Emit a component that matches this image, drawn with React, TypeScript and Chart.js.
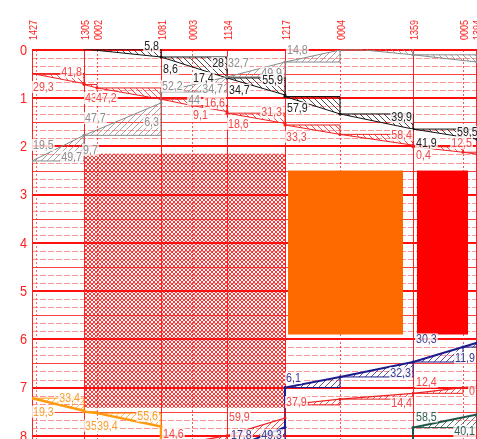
import React, { useEffect, useRef } from 'react';
import { Chart, registerables } from 'chart.js';

Chart.register(...registerables);

// ---------- data ----------
const stationNames = ['1427', '1305', '0002', '1081', '0003', '1134', '1217', '0004', '1359', '0005', '1394'];
const stationKm = [0, 52, 65, 129, 160, 195, 253, 308, 381, 431, 444];
const stationIsMain = [true, true, false, true, false, true, true, false, true, false, true];
const hourTicks = [0, 1, 2, 3, 4, 5, 6, 7, 8];
const minorPerHour = 6;

// [km, hour]
const grayTopTrain: [number, number][] = [[308, -0.05], [381, 0.1], [445, 0.25]];
const blackTrain: [number, number][] = [[52, -0.02], [129, 0.145], [195, 0.58], [253, 0.932], [253, 0.965], [308, 1.326], [381, 1.64], [445, 1.85]];
const grayTrain: [number, number][] = [[0, 2.301], [52, 1.77], [129, 1.098], [129, 0.87], [195, 0.56], [253, 0.25], [308, 0.0], [330, -0.08]];
const redTrain: [number, number][] = [[0, 0.488], [52, 0.697], [52, 0.717], [65, 0.787], [129, 1.02], [160, 1.152], [195, 1.277], [195, 1.31], [253, 1.522], [253, 1.555], [308, 1.75], [381, 1.973], [381, 2.007], [431, 2.12], [445, 2.16]];
const orangeTrain: [number, number][] = [[0, 7.22], [52, 7.48], [52, 7.5], [65, 7.53], [129, 7.81], [129, 8.6]];
const redLowTrain: [number, number][] = [[129, 8.24], [195, 7.998], [253, 7.632], [253, 7.36], [308, 7.24], [381, 7.12], [431, 7.0], [445, 6.97]];
const blueTrain: [number, number][] = [[195, 8.297], [253, 7.822], [253, 7.0], [308, 6.78], [381, 6.47], [431, 6.16], [445, 6.07]];
const greenTrain: [number, number][] = [[381, 8.6], [381, 7.83], [445, 7.56]];

// [km, hour, text, side]
type Lbl = [number, number, string, 'l' | 'r'];
const blackLabels: Lbl[] = [
  [127, -0.08, '5,8', 'r'], [131, 0.394, '8,6', 'l'], [192, 0.27, '28', 'r'], [161, 0.58, '17,4', 'l'],
  [251, 0.622, '55,9', 'r'], [197, 0.829, '34,7', 'l'], [255, 1.202, '57,9', 'l'], [380, 1.389, '39,9', 'r'],
  [384, 1.927, '41,9', 'l'], [425, 1.7, '59,5', 'l'],
];
const grayLabels: Lbl[] = [
  [255, 0.0, '14,8', 'l'], [196, 0.26, '32,7', 'l'], [250, 0.47, '49,9', 'r'], [130, 0.75, '52,2', 'l'],
  [168, 1.03, '44', 'r'], [191, 0.8, '34,7', 'r'], [53, 1.41, '47,7', 'l'], [127, 1.49, '6,3', 'r'],
  [1, 1.97, '19,5', 'l'], [50, 2.22, '49,7', 'r'], [51, 2.07, '9,7', 'l'],
];
const redLabels: Lbl[] = [
  [50, 0.456, '41,8', 'r'], [1, 0.767, '29,3', 'l'], [53, 0.995, '43,', 'l'], [64, 0.995, '47,2', 'l'],
  [193, 1.1, '16,6', 'r'], [161, 1.34, '9,1', 'l'], [196, 1.53, '18,6', 'l'], [250, 1.29, '31,3', 'r'],
  [254, 1.8, '33,3', 'l'], [380, 1.762, '58,4', 'r'], [384, 2.176, '0,4', 'l'], [440, 1.927, '12,5', 'r'],
];
const orangeLabels: Lbl[] = [
  [48, 7.21, '33,4', 'r'], [1, 7.5, '19,3', 'l'], [53, 7.79, '35,', 'l'], [65, 7.79, '39,4', 'l'], [126, 7.585, '55,6', 'r'],
];
const redLowLabels: Lbl[] = [
  [131, 7.96, '14,6', 'l'], [197, 7.6, '59,9', 'l'], [254, 7.3, '37,9', 'l'], [380, 7.32, '14,4', 'r'],
  [384, 6.88, '12,4', 'l'], [443, 7.07, '0', 'r'],
];
const blueLabels: Lbl[] = [
  [254, 6.8, '6,1', 'l'], [379, 6.7, '32,3', 'r'], [384, 6.0, '30,3', 'l'], [443, 6.38, '11,9', 'r'],
  [199, 7.99, '17,8', 'l'], [250, 7.99, '49,3', 'r'],
];
const greenLabels: Lbl[] = [[384, 7.6, '58,5', 'l'], [443, 7.9, '40,1', 'r']];

// [kmFrom, kmTo, hourFrom, hourTo]
const hatchedBlocks: [number, number, number, number][] = [[52, 253, 2.15, 7.42]];
const orangeBlocks: [number, number, number, number][] = [[256, 371, 2.5, 5.9]];
const redBlocks: [number, number, number, number][] = [[385, 436, 2.5, 5.9]];

// ---------- styles ----------
const FONT = "'Liberation Sans', Arial, sans-serif";
const SQUEEZE = 0.82;
const AXIS_RED = '#ff2020';

const trains = [
  { pts: grayTopTrain, labels: [] as Lbl[], color: '#8a8a8a', text: '#8a8a8a', width: 1, dir: -1 },
  { pts: grayTrain, labels: grayLabels, color: '#8a8a8a', text: '#8e8e8e', width: 1, dir: 1 },
  { pts: blackTrain, labels: blackLabels, color: '#111111', text: '#222222', width: 1, dir: -1 },
  { pts: redTrain, labels: redLabels, color: '#ee2020', text: '#f04848', width: 1, dir: -1 },
  { pts: orangeTrain, labels: orangeLabels, color: '#ff9a10', text: '#f5a030', width: 2.5, dir: 1 },
  { pts: redLowTrain, labels: redLowLabels, color: '#ee2020', text: '#f04848', width: 1.2, dir: 1 },
  { pts: blueTrain, labels: blueLabels, color: '#1c1c8c', text: '#3a3a90', width: 2, dir: 1 },
  { pts: greenTrain, labels: greenLabels, color: '#1f5548', text: '#2e5e52', width: 2, dir: 1 },
];

function makeHatch(ctx: CanvasRenderingContext2D, color: string, dir: number, size: number, cross = false) {
  const c = document.createElement('canvas');
  c.width = size; c.height = size;
  const g = c.getContext('2d')!;
  g.strokeStyle = color; g.lineWidth = 1;
  g.beginPath();
  if (dir > 0 || cross) {
    g.moveTo(0, size); g.lineTo(size, 0);
    g.moveTo(-1, 1); g.lineTo(1, -1);
    g.moveTo(size - 1, size + 1); g.lineTo(size + 1, size - 1);
  }
  if (dir < 0 || cross) {
    g.moveTo(0, 0); g.lineTo(size, size);
    g.moveTo(-1, size - 1); g.lineTo(1, size + 1);
    g.moveTo(size - 1, -1); g.lineTo(size + 1, 1);
  }
  g.stroke();
  return ctx.createPattern(c, 'repeat')!;
}

// draws horizontally condensed text; align: 'l' starts at x, 'r' ends at x, 'c' centred
function narrowText(ctx: CanvasRenderingContext2D, txt: string, x: number, y: number, size: number, align: 'l' | 'r' | 'c') {
  ctx.save();
  ctx.font = `${size}px ${FONT}`;
  ctx.textBaseline = 'middle';
  ctx.textAlign = 'left';
  const w = ctx.measureText(txt).width * SQUEEZE;
  const left = align === 'l' ? x : align === 'r' ? x - w : x - w / 2;
  ctx.translate(left, y);
  ctx.scale(SQUEEZE, 1);
  ctx.fillText(txt, 0, 0);
  ctx.restore();
  return w;
}

const diagramPlugin = {
  id: 'diagram',
  beforeDatasetsDraw(chart: any) {
    const { ctx, chartArea: a, scales } = chart;
    const xs = scales.x, ys = scales.y;
    const X = (v: number) => xs.getPixelForValue(v);
    const Y = (v: number) => ys.getPixelForValue(v);

    // axis texts (outside the plot area)
    ctx.save();
    ctx.fillStyle = AXIS_RED;
    hourTicks.forEach((h) => narrowText(ctx, String(h), a.left - 5, Y(h) + 0.5, 15.5, 'r'));
    stationKm.forEach((k, i) => {
      ctx.save();
      ctx.translate(X(k) + 1.5, a.top - 10);
      ctx.rotate(-Math.PI / 2);
      narrowText(ctx, stationNames[i], 0, 0, 11, 'l');
      ctx.restore();
    });
    ctx.restore();

    ctx.save();
    ctx.beginPath();
    ctx.rect(a.left - 1, a.top - 1, a.right - a.left + 1, a.bottom - a.top + 1);
    ctx.clip();

    // cross-hatched block
    const cross = makeHatch(ctx, '#ff3434', 0, 4, true);
    hatchedBlocks.forEach(([k0, k1, h0, h1]) => {
      ctx.fillStyle = cross;
      ctx.fillRect(X(k0), Y(h0), X(k1) - X(k0), Y(h1) - Y(h0));
    });

    // horizontal grid
    for (let i = Math.ceil(ys.min * minorPerHour); i <= ys.max * minorPerHour; i++) {
      const v = i / minorPerHour;
      const py = Math.round(Y(v));
      ctx.beginPath();
      if (i % minorPerHour === 0) {
        ctx.setLineDash([]); ctx.lineWidth = 2; ctx.strokeStyle = '#ff1010';
        ctx.moveTo(a.left, py); ctx.lineTo(a.right, py);
      } else if (i % (minorPerHour / 2) === 0) {
        ctx.setLineDash([]); ctx.lineWidth = 1; ctx.strokeStyle = 'rgba(255,30,30,0.85)';
        ctx.moveTo(a.left, py + 0.5); ctx.lineTo(a.right, py + 0.5);
      } else {
        ctx.setLineDash([6, 2]); ctx.lineWidth = 1; ctx.strokeStyle = 'rgba(255,60,60,0.55)';
        ctx.moveTo(a.left, py + 0.5); ctx.lineTo(a.right, py + 0.5);
      }
      ctx.stroke();
    }
    // vertical grid
    stationKm.forEach((k, i) => {
      const px = Math.round(X(k)) + 0.5;
      ctx.beginPath();
      ctx.lineWidth = 1;
      if (stationIsMain[i]) { ctx.setLineDash([]); ctx.strokeStyle = '#ff2020'; }
      else { ctx.setLineDash([2, 2]); ctx.strokeStyle = 'rgba(255,40,40,0.8)'; }
      ctx.moveTo(px, a.top); ctx.lineTo(px, a.bottom);
      ctx.stroke();
    });
    ctx.beginPath(); ctx.setLineDash([2, 2]); ctx.strokeStyle = 'rgba(255,40,40,0.7)';
    const p4 = Math.round(X(stationKm[0] + 4)) + 0.5;
    ctx.moveTo(p4, a.top); ctx.lineTo(p4, a.bottom); ctx.stroke();
    ctx.setLineDash([]);

    // solid blocks
    ctx.fillStyle = '#ff6a00';
    orangeBlocks.forEach(([k0, k1, h0, h1]) => ctx.fillRect(X(k0), Y(h0), X(k1) - X(k0), Y(h1) - Y(h0)));
    ctx.fillStyle = '#ff0000';
    redBlocks.forEach(([k0, k1, h0, h1]) => ctx.fillRect(X(k0), Y(h0), X(k1) - X(k0), Y(h1) - Y(h0)));

    // running-time triangles
    trains.forEach((t) => {
      const pat = makeHatch(ctx, t.color, t.dir, 6);
      for (let i = 0; i < t.pts.length - 1; i++) {
        const [k0, h0] = t.pts[i];
        const [k1, h1] = t.pts[i + 1];
        if (k0 === k1) continue;
        ctx.beginPath();
        ctx.moveTo(X(k0), Y(h0)); ctx.lineTo(X(k1), Y(h0)); ctx.lineTo(X(k1), Y(h1)); ctx.closePath();
        ctx.globalAlpha = 0.75;
        ctx.fillStyle = pat; ctx.fill();
        ctx.globalAlpha = 1;
        ctx.beginPath();
        ctx.strokeStyle = t.color; ctx.lineWidth = 1;
        ctx.moveTo(X(k0), Y(h0)); ctx.lineTo(X(k1), Y(h0)); ctx.lineTo(X(k1), Y(h1));
        ctx.stroke();
      }
    });
    ctx.restore();
  },
  afterDatasetsDraw(chart: any) {
    const { ctx, scales } = chart;
    const X = (v: number) => scales.x.getPixelForValue(v);
    const Y = (v: number) => scales.y.getPixelForValue(v);
    ctx.save();
    trains.forEach((t) => {
      t.labels.forEach(([k, h, txt, side]) => {
        const px = X(k), py = Y(h);
        ctx.font = `13px ${FONT}`;
        const w = ctx.measureText(txt).width * SQUEEZE;
        const left = side === 'l' ? px : px - w;
        ctx.fillStyle = 'rgba(255,255,255,0.8)';
        ctx.fillRect(left - 1, py - 6, w + 2, 12);
        ctx.fillStyle = t.text;
        narrowText(ctx, txt, left, py + 0.5, 13, 'l');
      });
    });
    ctx.restore();
  },
};

export default function App() {
  const ref = useRef<HTMLCanvasElement>(null);
  useEffect(() => {
    if (!ref.current) return;
    const chart = new Chart(ref.current, {
      type: 'line',
      data: {
        datasets: trains.map((t) => ({
          data: t.pts.map(([k, h]) => ({ x: k, y: h })),
          borderColor: t.color,
          backgroundColor: t.color,
          borderWidth: t.width,
          pointRadius: 1.5,
          pointBorderWidth: 0,
          tension: 0,
          fill: false,
        })),
      },
      options: {
        animation: false,
        responsive: false,
        events: [],
        layout: { padding: 0, autoPadding: false },
        plugins: { legend: { display: false }, tooltip: { enabled: false }, title: { display: false } },
        scales: {
          x: {
            type: 'linear', position: 'top', min: 0, max: 476,
            afterBuildTicks: (axis: any) => { axis.ticks = stationKm.map((v) => ({ value: v })); },
            afterFit: (axis: any) => { axis.height = 42; },
            ticks: { display: false },
            grid: { display: false, drawTicks: false },
            border: { display: false },
          },
          y: {
            type: 'linear', reverse: true, min: 0, max: 9,
            afterBuildTicks: (axis: any) => { axis.ticks = hourTicks.map((v) => ({ value: v })); },
            afterFit: (axis: any) => { axis.width = 24; },
            ticks: { display: false },
            grid: { display: false, drawTicks: false },
            border: { display: false },
          },
        },
      } as any,
      plugins: [diagramPlugin],
    });
    return () => chart.destroy();
  }, []);
  return (
    <div style={{ position: 'fixed', left: 8, top: 8, width: 469, height: 431, overflow: 'hidden' }}>
      <canvas ref={ref} width={500} height={476} style={{ display: 'block', width: 500, height: 476 }} />
    </div>
  );
}
